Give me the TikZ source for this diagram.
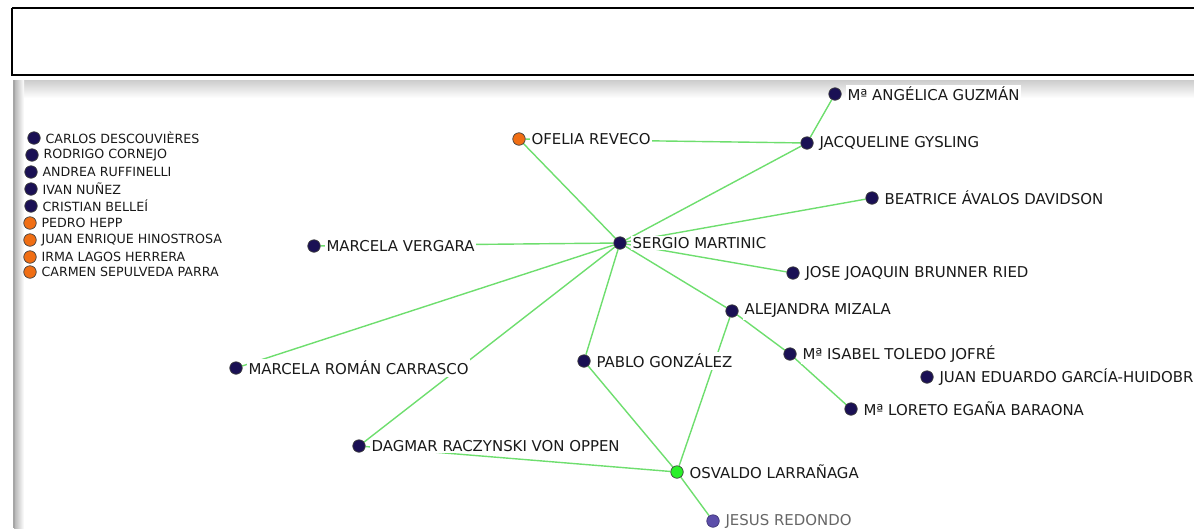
\documentclass[tikz,border=0pt]{standalone}
\usepackage{fontspec}
\setmainfont{DejaVu Sans}
\usetikzlibrary{backgrounds}

\begin{document}
\begin{tikzpicture}[x=0.02cm,y=-0.02cm,
    person/.style={circle,draw=black!75,line width=0.4pt,fill=navycolor,
        minimum size=0.25cm,inner sep=0pt},
    tag/.style={font=\fontsize{8.5}{9}\selectfont,text=black!90,inner sep=1pt,
        fill=white,xshift=2.2pt},
    small/.style={font=\fontsize{7.2}{8}\selectfont,text=black!90,inner sep=1pt,
        xshift=1.6pt},
    who/.style={label={[tag]right:#1}},
    listed/.style={label={[small]right:#1}},
    link/.style={draw=linkcolor,line width=0.8pt}]

    \definecolor{navycolor}{RGB}{26,16,84}
    \definecolor{orangecolor}{RGB}{240,110,20}
    \definecolor{greencolor}{RGB}{40,240,40}
    \definecolor{linkcolor}{RGB}{110,222,110}
    \definecolor{jesuscolor}{RGB}{92,78,170}

    \useasboundingbox (0,0) rectangle (1194,528);

    % frame above and panel below
    \draw[line width=1.1pt] (12,8) -- (1200,8) (12,8) -- (12,75) -- (1200,75);
    \shade[top color=gray!40,bottom color=white] (14,80) rectangle (1194,98);
    \shade[left color=gray!60,right color=white] (14,80) rectangle (24,528);
    \draw[gray!70,line width=0.8pt] (14,80) -- (14,528);

    % persons without links
    \node[person,listed=CARLOS DESCOUVIÈRES] (descouvieres) at (34,138) {};
    \node[person,listed=RODRIGO CORNEJO] (cornejo) at (32,155) {};
    \node[person,listed=ANDREA RUFFINELLI] (ruffinelli) at (31,172) {};
    \node[person,listed=IVAN NUÑEZ] (nunez) at (31,189) {};
    \node[person,listed=CRISTIAN BELLEÍ] (bellei) at (31,206) {};
    \node[person,fill=orangecolor,listed=PEDRO HEPP] (hepp) at (30,223) {};
    \node[person,fill=orangecolor,listed=JUAN ENRIQUE HINOSTROSA] (hinostrosa) at (30,240) {};
    \node[person,fill=orangecolor,listed=IRMA LAGOS HERRERA] (lagos) at (30,257) {};
    \node[person,fill=orangecolor,listed=CARMEN SEPULVEDA PARRA] (sepulveda) at (30,272) {};

    % network
    \node[person,fill=orangecolor,who=OFELIA REVECO] (reveco) at (519,139) {};
    \node[person,who=Mª ANGÉLICA GUZMÁN] (guzman) at (835,94) {};
    \node[person,who=JACQUELINE GYSLING] (gysling) at (807,143) {};
    \node[person,who=BEATRICE ÁVALOS DAVIDSON] (avalos) at (872,198) {};
    \node[person,who=SERGIO MARTINIC] (martinic) at (620,243) {};
    \node[person,who=MARCELA VERGARA] (vergara) at (314,246) {};
    \node[person,who=JOSE JOAQUIN BRUNNER RIED] (brunner) at (793,273) {};
    \node[person,who=ALEJANDRA MIZALA] (mizala) at (732,311) {};
    \node[person,who=Mª ISABEL TOLEDO JOFRÉ] (toledo) at (790,354) {};
    \node[person,who=JUAN EDUARDO GARCÍA-HUIDOBRO] (huidobro) at (927,377) {};
    \node[person,who=Mª LORETO EGAÑA BARAONA] (egana) at (851,409) {};
    \node[person,who=PABLO GONZÁLEZ] (gonzalez) at (584,361) {};
    \node[person,who=MARCELA ROMÁN CARRASCO] (roman) at (236,368) {};
    \node[person,who=DAGMAR RACZYNSKI VON OPPEN] (raczynski) at (359,446) {};
    \node[person,fill=greencolor,who=OSVALDO LARRAÑAGA] (larranaga) at (677,472) {};
    \node[person,fill=jesuscolor,draw=jesuscolor!70!black,
          label={[tag,text=black!60]right:JESUS REDONDO}] (redondo) at (713,521) {};

    \begin{scope}[on background layer]
        \draw[link] (reveco) -- (martinic);
        \draw[link] (reveco) -- (gysling);
        \draw[link] (gysling) -- (guzman);
        \draw[link] (gysling) -- (martinic);
        \draw[link] (avalos) -- (martinic);
        \draw[link] (vergara) -- (martinic);
        \draw[link] (martinic) -- (brunner);
        \draw[link] (martinic) -- (mizala);
        \draw[link] (martinic) -- (gonzalez);
        \draw[link] (martinic) -- (roman);
        \draw[link] (martinic) -- (raczynski);
        \draw[link] (mizala) -- (toledo);
        \draw[link] (toledo) -- (egana);
        \draw[link] (mizala) -- (larranaga);
        \draw[link] (gonzalez) -- (larranaga);
        \draw[link] (raczynski) -- (larranaga);
        \draw[link] (larranaga) -- (redondo);
    \end{scope}

\end{tikzpicture}
\end{document}
